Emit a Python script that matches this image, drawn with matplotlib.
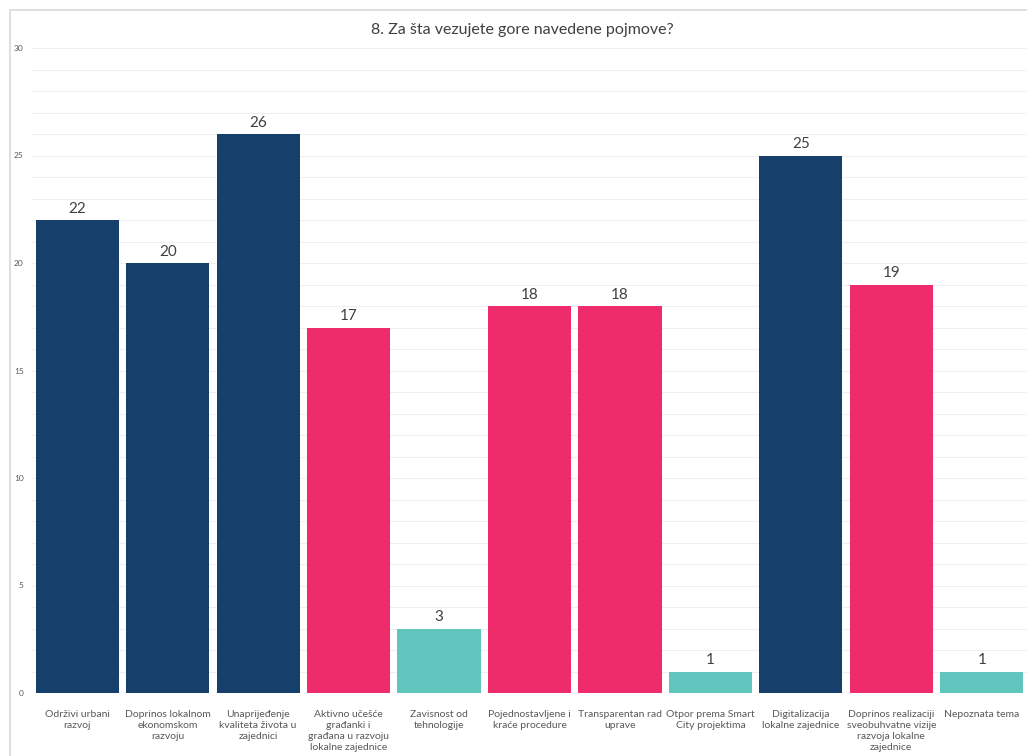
import matplotlib.pyplot as plt
from matplotlib.patches import Rectangle

# --- data ------------------------------------------------------------------
categories = [
    "Održivi urbani\nrazvoj",
    "Doprinos lokalnom\nekonomskom\nrazvoju",
    "Unaprijeđenje\nkvaliteta života u\nzajednici",
    "Aktivno učešće\ngrađanki i\ngrađana u razvoju\nlokalne zajednice",
    "Zavisnost od\ntehnologije",
    "Pojednostavljene i\nkraće procedure",
    "Transparentan rad\nuprave",
    "Otpor prema Smart\nCity projektima",
    "Digitalizacija\nlokalne zajednice",
    "Doprinos realizaciji\nsveobuhvatne vizije\nrazvoja lokalne\nzajednice",
    "Nepoznata tema",
]
counts = [22, 20, 26, 17, 3, 18, 18, 1, 25, 19, 1]
groups = ["a", "a", "a", "b", "c", "b", "b", "c", "a", "b", "c"]
palette = {"a": "#173f6b", "b": "#ee2c6c", "c": "#5fc5bd"}
y_ticks = [0, 5, 10, 15, 20, 25, 30]

plt.rcParams['font.family'] = ['Lato', 'DejaVu Sans']
text_col = "#595959"

fig = plt.figure(figsize=(10.27, 7.56), dpi=100)

# light frame around the chart area
fig.patches.append(Rectangle((10 / 1027, -0.1), 1.2, 0.1 + 1 - 10 / 756,
                             transform=fig.transFigure, fill=False,
                             edgecolor="#d9d9d9", linewidth=1.2))

ax = fig.add_axes([32 / 1027, 1 - 693 / 756, 995 / 1027, (693 - 48) / 756])

x = range(len(categories))
ax.bar(x, counts, width=0.92, color=[palette[g] for g in groups], zorder=2)
for i, v in enumerate(counts):
    ax.text(i, v + 0.2, str(v), ha="center", va="bottom",
            fontsize=11, color="#404040")

ax.set_xlim(-0.5, len(categories) - 0.5)
ax.set_ylim(0, 30)
ax.set_yticks(y_ticks)
ax.set_yticks(range(0, 31), minor=True)
ax.grid(axis="y", which="both", color="#efefef", linewidth=0.8, zorder=0)
ax.tick_params(axis="y", which="both", length=0, labelsize=6,
               labelcolor=text_col, pad=6)
ax.set_xticks(list(x))
ax.set_xticklabels(categories, fontsize=7.5, color=text_col, linespacing=1.3)
ax.tick_params(axis="x", length=0, pad=12)
for s in ax.spines.values():
    s.set_visible(False)

fig.text(522 / 1027, 1 - 30 / 756, "8. Za šta vezujete gore navedene pojmove?",
         ha="center", va="center", fontsize=11.5, color="#404040")

fig.savefig("out.png", dpi=100)
